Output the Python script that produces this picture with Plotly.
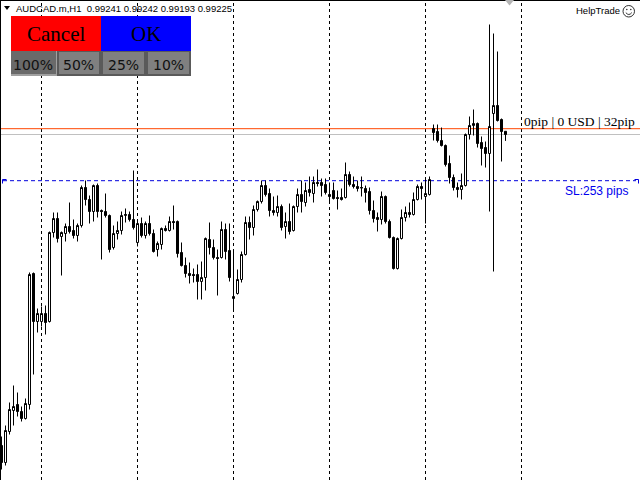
import plotly.graph_objects as go

W, H = 640, 480

# ---------------- data (H1 candles) ----------------
bar_index = list(range(127))

open_ = [0.97670, 0.97585, 0.97740, 0.97845, 0.97875, 0.97840, 0.97805, 0.97875, 0.98530, 0.98290,
         0.98290, 0.98330, 0.98290, 0.98735, 0.98805, 0.98715, 0.98730, 0.98765, 0.98745, 0.98720,
         0.98770, 0.98960, 0.98900, 0.98840, 0.98970, 0.98845, 0.98840, 0.98820, 0.98660, 0.98730,
         0.98745, 0.98820, 0.98825, 0.98800, 0.98685, 0.98780, 0.98720, 0.98780, 0.98730, 0.98650,
         0.98675, 0.98755, 0.98745, 0.98790, 0.98790, 0.98635, 0.98570, 0.98530, 0.98525, 0.98525,
         0.98490, 0.98510, 0.98700, 0.98660, 0.98610, 0.98610, 0.98750, 0.98645, 0.98405, 0.98430,
         0.98500, 0.98625, 0.98785, 0.98760, 0.98850, 0.98890, 0.98970, 0.98930, 0.98845, 0.98835,
         0.98865, 0.98765, 0.98790, 0.98745, 0.98865, 0.98925, 0.98885, 0.98950, 0.98930, 0.98985,
         0.98985, 0.98975, 0.98925, 0.98945, 0.98910, 0.98910, 0.98910, 0.99025, 0.98975, 0.98965,
         0.98960, 0.98955, 0.98940, 0.98845, 0.98810, 0.98800, 0.98915, 0.98790, 0.98710, 0.98555,
         0.98705, 0.98810, 0.98835, 0.98825, 0.98900, 0.98965, 0.98915, 0.98925, 0.99255, 0.99240,
         0.99195, 0.99170, 0.99080, 0.99010, 0.98960, 0.98950, 0.98970, 0.99225, 0.99270, 0.99280,
         0.99185, 0.99160, 0.99130, 0.99330, 0.99370, 0.99300, 0.99241]

high = [0.97715, 0.97770, 0.97885, 0.97970, 0.97935, 0.97865, 0.97905, 0.98535, 0.98535, 0.98355,
        0.98365, 0.98370, 0.98740, 0.98835, 0.98835, 0.98740, 0.98780, 0.98885, 0.98800, 0.98780,
        0.98970, 0.98995, 0.98920, 0.98975, 0.98980, 0.98850, 0.98930, 0.98825, 0.98770, 0.98790,
        0.98840, 0.98855, 0.98840, 0.99045, 0.98800, 0.98810, 0.98790, 0.98820, 0.98750, 0.98690,
        0.98760, 0.98770, 0.98815, 0.98870, 0.98795, 0.98685, 0.98610, 0.98585, 0.98555, 0.98575,
        0.98590, 0.98710, 0.98785, 0.98700, 0.98650, 0.98790, 0.98780, 0.98780, 0.98640, 0.98550,
        0.98640, 0.98815, 0.98815, 0.98870, 0.98895, 0.98995, 0.98995, 0.98955, 0.98915, 0.98920,
        0.98875, 0.98835, 0.98880, 0.98870, 0.98955, 0.98995, 0.98985, 0.99015, 0.99015, 0.99050,
        0.99005, 0.99005, 0.98985, 0.98985, 0.98945, 0.98955, 0.99085, 0.99040, 0.99015, 0.98995,
        0.99015, 0.98970, 0.98960, 0.98895, 0.98835, 0.98940, 0.98920, 0.98800, 0.98715, 0.98710,
        0.98850, 0.98865, 0.98885, 0.98935, 0.98975, 0.98985, 0.99005, 0.99015, 0.99275, 0.99275,
        0.99260, 0.99175, 0.99120, 0.99025, 0.98985, 0.99030, 0.99230, 0.99315, 0.99350, 0.99285,
        0.99215, 0.99190, 0.99775, 0.99730, 0.99640, 0.99305, 0.99242]

low = [0.97550, 0.97570, 0.97725, 0.97770, 0.97815, 0.97790, 0.97800, 0.97850, 0.98025, 0.98235,
       0.98265, 0.98225, 0.98285, 0.98710, 0.98685, 0.98520, 0.98690, 0.98730, 0.98705, 0.98690,
       0.98760, 0.98870, 0.98780, 0.98790, 0.98810, 0.98600, 0.98810, 0.98635, 0.98650, 0.98700,
       0.98725, 0.98785, 0.98790, 0.98750, 0.98665, 0.98710, 0.98705, 0.98720, 0.98635, 0.98615,
       0.98650, 0.98740, 0.98740, 0.98750, 0.98610, 0.98565, 0.98510, 0.98480, 0.98485, 0.98400,
       0.98400, 0.98445, 0.98625, 0.98600, 0.98420, 0.98605, 0.98600, 0.98490, 0.98350, 0.98425,
       0.98485, 0.98620, 0.98700, 0.98720, 0.98840, 0.98880, 0.98915, 0.98815, 0.98820, 0.98815,
       0.98745, 0.98705, 0.98725, 0.98740, 0.98835, 0.98835, 0.98865, 0.98915, 0.98885, 0.98965,
       0.98915, 0.98925, 0.98890, 0.98900, 0.98850, 0.98895, 0.98905, 0.98965, 0.98955, 0.98940,
       0.98915, 0.98885, 0.98825, 0.98785, 0.98740, 0.98775, 0.98780, 0.98705, 0.98550, 0.98550,
       0.98700, 0.98790, 0.98810, 0.98820, 0.98895, 0.98900, 0.98780, 0.98920, 0.99195, 0.99185,
       0.99165, 0.99065, 0.98980, 0.98945, 0.98910, 0.98900, 0.98965, 0.99200, 0.99220, 0.99160,
       0.99070, 0.99060, 0.98840, 0.98540, 0.99290, 0.99090, 0.99193]

close = [0.97585, 0.97745, 0.97850, 0.97865, 0.97840, 0.97805, 0.97880, 0.98525, 0.98290, 0.98330,
         0.98330, 0.98285, 0.98735, 0.98805, 0.98705, 0.98735, 0.98765, 0.98740, 0.98720, 0.98770,
         0.98960, 0.98900, 0.98840, 0.98970, 0.98840, 0.98840, 0.98820, 0.98650, 0.98730, 0.98745,
         0.98820, 0.98825, 0.98800, 0.98760, 0.98780, 0.98720, 0.98780, 0.98730, 0.98640, 0.98680,
         0.98755, 0.98745, 0.98790, 0.98785, 0.98630, 0.98570, 0.98530, 0.98520, 0.98520, 0.98490,
         0.98510, 0.98705, 0.98660, 0.98610, 0.98605, 0.98750, 0.98640, 0.98510, 0.98415, 0.98500,
         0.98625, 0.98785, 0.98760, 0.98850, 0.98890, 0.98970, 0.98925, 0.98845, 0.98835, 0.98865,
         0.98760, 0.98790, 0.98740, 0.98865, 0.98925, 0.98890, 0.98945, 0.98935, 0.98985, 0.98980,
         0.98970, 0.98935, 0.98915, 0.98905, 0.98905, 0.98900, 0.99025, 0.98975, 0.98965, 0.98955,
         0.98958, 0.98935, 0.98845, 0.98805, 0.98800, 0.98915, 0.98790, 0.98710, 0.98555, 0.98705,
         0.98810, 0.98835, 0.98825, 0.98900, 0.98965, 0.98955, 0.98930, 0.99000, 0.99235, 0.99195,
         0.99170, 0.99075, 0.99010, 0.98960, 0.98950, 0.98970, 0.99225, 0.99270, 0.99280, 0.99180,
         0.99155, 0.99130, 0.99265, 0.99370, 0.99295, 0.99240, 0.99225]

symbol_label = "AUDCAD.m,H1"
header_ohlc = ["0.99241", "0.99242", "0.99193", "0.99225"]
separator_idx = [10, 34, 58, 82, 106, 130]   # day separators
bid_price = 0.99225
order_price = 0.99254
sl_price = 0.98994
pip_label = "0pip | 0 USD | 32pip"
sl_label = "SL:253 pips"
pct_buttons = ["100%", "50%", "25%", "10%"]
brand_label = "HelpTrade"


def px(x):
    return x / W


def py(y):
    return 1 - y / H


fig = go.Figure(go.Candlestick(
    x=bar_index, open=open_, high=high, low=low, close=close,
    increasing=dict(line=dict(color="black", width=1), fillcolor="white"),
    decreasing=dict(line=dict(color="black", width=1), fillcolor="black"),
    whiskerwidth=0, hoverinfo="skip", showlegend=False,
))

shapes = []
# frame
shapes.append(dict(type="line", xref="paper", yref="paper", x0=0, x1=1, y0=py(0.5), y1=py(0.5),
                   line=dict(color="black", width=1), layer="above"))
shapes.append(dict(type="line", xref="paper", yref="paper", x0=px(0.5), x1=px(0.5), y0=0, y1=1,
                   line=dict(color="black", width=1), layer="above"))
# period separators
for s in separator_idx:
    shapes.append(dict(type="line", xref="x", yref="paper", x0=s, x1=s, y0=0, y1=1,
                       line=dict(color="black", width=1, dash="3px,3px"), layer="below"))
# order line, bid line, stop loss line
shapes.append(dict(type="line", xref="paper", yref="y", x0=0, x1=1, y0=order_price, y1=order_price,
                   line=dict(color="#FF4500", width=1), layer="below"))
shapes.append(dict(type="line", xref="paper", yref="y", x0=0, x1=1, y0=bid_price, y1=bid_price,
                   line=dict(color="#C0C0C0", width=1), layer="below"))
shapes.append(dict(type="line", xref="paper", yref="y", x0=px(3), x1=px(636), y0=sl_price, y1=sl_price,
                   line=dict(color="#0000DD", width=1, dash="4px,3px"), layer="below"))
# stop-loss line end markers
shapes.append(dict(type="path", xref="paper", yref="paper",
                   path=f"M {px(6.5)},{py(179.5)} L {px(2.5)},{py(179.5)} L {px(2.5)},{py(183.5)}",
                   line=dict(color="#0000DD", width=1)))
shapes.append(dict(type="path", xref="paper", yref="paper",
                   path=f"M {px(634.5)},{py(179.5)} L {px(638.5)},{py(179.5)} L {px(638.5)},{py(183.5)}",
                   line=dict(color="#0000DD", width=1)))
# chart shift triangle
shapes.append(dict(type="path", xref="paper", yref="paper",
                   path=f"M {px(505)},{py(0)} L {px(514)},{py(0)} L {px(509.5)},{py(5.5)} Z",
                   fillcolor="#B4B4B4", line=dict(width=0)))
# header triangle
shapes.append(dict(type="path", xref="paper", yref="paper",
                   path=f"M {px(4)},{py(6)} L {px(10)},{py(6)} L {px(7)},{py(10)} Z",
                   fillcolor="black", line=dict(width=0), layer="above"))

# buttons
shapes.append(dict(type="rect", xref="paper", yref="paper", x0=px(11), x1=px(101), y0=py(51), y1=py(16),
                   fillcolor="#FF0000", line=dict(width=0), layer="above"))
shapes.append(dict(type="rect", xref="paper", yref="paper", x0=px(101), x1=px(191), y0=py(51), y1=py(16),
                   fillcolor="#0000FF", line=dict(width=0), layer="above"))
btn_edges = [11, 57, 101, 146, 191]
for i in range(4):
    x0, x1 = btn_edges[i], btn_edges[i + 1]
    if i == 0:
        outer, inner = "#A0A0A0", "#6A6A6A"
        shapes.append(dict(type="rect", xref="paper", yref="paper", x0=px(x0), x1=px(x1), y0=py(76), y1=py(51),
                           fillcolor=outer, line=dict(width=0), layer="above"))
        shapes.append(dict(type="rect", xref="paper", yref="paper", x0=px(x0), x1=px(x1 - 1), y0=py(74), y1=py(51),
                           fillcolor=inner, line=dict(width=0), layer="above"))
    else:
        outer, inner = "#5A5A5A", "#808080"
        shapes.append(dict(type="rect", xref="paper", yref="paper", x0=px(x0), x1=px(x1), y0=py(76), y1=py(51),
                           fillcolor=outer, line=dict(width=0), layer="above"))
        shapes.append(dict(type="rect", xref="paper", yref="paper", x0=px(x0 + 2), x1=px(x1 - 2), y0=py(74), y1=py(52),
                           fillcolor=inner, line=dict(width=0), layer="above"))

# smiley next to brand
shapes.append(dict(type="circle", xref="paper", yref="paper", x0=px(623), x1=px(634.5), y0=py(17), y1=py(5.5),
                   line=dict(color="#303030", width=1), layer="above"))
for ex in (626.8, 630.8):
    shapes.append(dict(type="circle", xref="paper", yref="paper", x0=px(ex - 0.8), x1=px(ex + 0.8),
                       y0=py(10.3), y1=py(8.7), fillcolor="#303030", line=dict(width=0), layer="above"))
shapes.append(dict(type="path", xref="paper", yref="paper",
                   path=f"M {px(625.8)},{py(12.6)} Q {px(628.8)},{py(16.4)} {px(631.8)},{py(12.6)}",
                   line=dict(color="#303030", width=1), layer="above"))

annotations = []


def ann(text, x, y, xanchor, size, family, color="black", yanchor="middle"):
    annotations.append(dict(text=text, x=px(x), y=py(y), xref="paper", yref="paper", showarrow=False,
                            xanchor=xanchor, yanchor=yanchor,
                            font=dict(size=size, family=family, color=color)))


ann(symbol_label + "\u00a0\u00a0" + " ".join(header_ohlc), 14, 8.5, "left", 9.5, "Liberation Sans")
ann("Cancel", 56, 34, "center", 21, "Liberation Serif")
ann("OK", 146, 34, "center", 21, "Liberation Serif")
pct_centers = [33, 78, 123, 168]
for lbl, cx in zip(pct_buttons, pct_centers):
    ann(lbl, cx, 64.5, "center", 14, "DejaVu Sans", color="#111111")
ann(brand_label, 622, 10, "right", 9.5, "Liberation Sans")
ann(pip_label, 637, 121.5, "right", 13.5, "Liberation Serif", color="#000000")
ann(sl_label, 630, 190.5, "right", 12, "Liberation Sans", color="#0000EE")

fig.update_layout(
    width=W, height=H,
    margin=dict(l=0, r=0, t=0, b=0),
    paper_bgcolor="white", plot_bgcolor="white",
    showlegend=False,
    boxgap=0.5, boxgroupgap=0,
    xaxis=dict(range=[-0.375, 159.625], visible=False, showgrid=False, zeroline=False,
               rangeslider=dict(visible=False), fixedrange=True),
    yaxis=dict(range=[0.974975, 0.998975], visible=False, showgrid=False, zeroline=False, fixedrange=True),
    shapes=shapes,
    annotations=annotations,
)

fig.write_html("out.html", config={"displayModeBar": False},
               post_script="document.body.style.margin='0';document.body.style.padding='0';"
                           "document.documentElement.style.overflow='hidden';")
